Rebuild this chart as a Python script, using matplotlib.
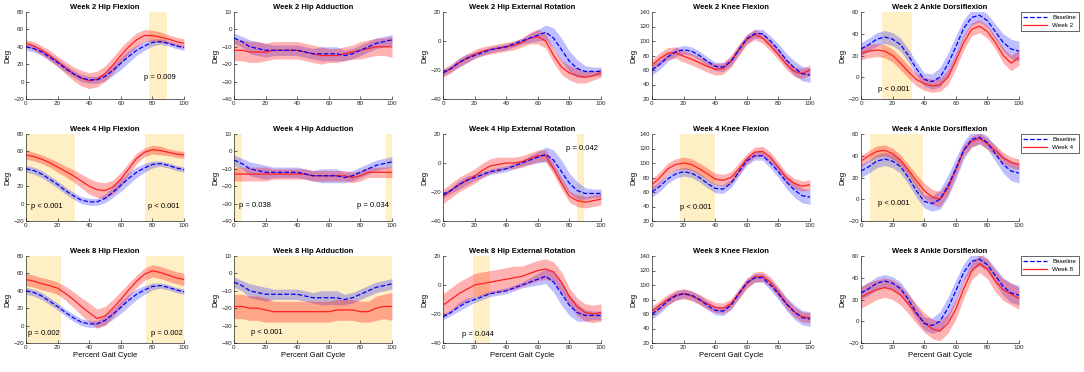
import numpy as np
import matplotlib.pyplot as plt

plt.rcParams['font.family'] = ['Liberation Sans', 'DejaVu Sans']

pct = np.arange(0, 101, 5)

# hip flexion (deg), sampled every 5 % of gait cycle
hf_base = [40, 38, 34, 28, 22, 15, 9, 4, 2, 2, 6, 13, 21, 29, 36, 41, 45, 46, 44, 41, 39]
hf_base_sd = [4, 4, 4, 4, 4, 4, 4, 4, 4, 4, 5, 6, 7, 7, 6, 5, 4, 3, 3, 3, 3]
hf_wk2 = [44, 41, 36, 30, 23, 16, 9, 4, 1, 3, 9, 19, 30, 40, 48, 53, 53, 51, 49, 46, 44]
hf_wk2_sd = [4, 5, 5, 6, 6, 7, 8, 9, 9, 9, 9, 9, 9, 8, 8, 7, 6, 6, 5, 5, 5]
hf_wk4 = [56, 54, 51, 47, 42, 37, 32, 26, 20, 16, 15, 19, 28, 40, 52, 59, 62, 61, 59, 57, 56]
hf_wk4_sd = [5, 5, 5, 5, 6, 6, 7, 8, 9, 9, 9, 8, 8, 7, 6, 5, 5, 5, 4, 4, 4]
hf_wk8 = [53, 51, 48, 46, 43, 37, 30, 22, 15, 8, 11, 20, 30, 41, 51, 59, 63, 61, 58, 55, 53]
hf_wk8_sd = [7, 7, 7, 7, 7, 8, 9, 10, 11, 11, 11, 10, 9, 8, 7, 7, 7, 7, 7, 7, 7]

# hip adduction
ha_base = [-5, -7, -10, -11, -12, -12, -12, -12, -12, -13, -14, -14, -14, -14, -15, -14, -12, -10, -8, -7, -6]
ha_base_sd = [3, 3, 4, 4, 4, 3, 3, 3, 3, 3, 3, 4, 4, 4, 3, 3, 3, 3, 3, 3, 3]
ha_wk2 = [-12, -12, -13, -13, -13, -12, -12, -12, -12, -13, -14, -15, -15, -15, -14, -13, -12, -11, -10, -10, -10]
ha_wk2_sd = [6, 6, 6, 6, 5, 5, 5, 5, 5, 5, 5, 5, 4, 4, 4, 4, 5, 5, 5, 5, 6]
ha_wk4 = [-13, -13, -13, -13, -13, -13, -13, -13, -13, -13, -14, -14, -14, -14, -14, -15, -14, -12, -12, -12, -12]
ha_wk4_sd = [4, 4, 4, 4, 4, 3, 3, 3, 3, 3, 3, 3, 3, 3, 3, 3, 3, 3, 3, 3, 3]
ha_wk8 = [-19, -19, -20, -20, -21, -22, -22, -22, -22, -22, -22, -22, -22, -21, -21, -21, -22, -22, -20, -19, -19]
ha_wk8_sd = [7, 7, 7, 7, 7, 6, 6, 6, 6, 6, 6, 6, 6, 6, 6, 6, 6, 6, 7, 7, 8]

# hip external rotation
her_base = [-22, -19, -15, -12, -10, -8, -6, -5, -4, -2, 0, 2, 4, 6, 2, -6, -14, -19, -21, -21, -21]
her_base_sd = [2, 2, 3, 3, 2, 2, 2, 2, 2, 2, 2, 3, 4, 5, 7, 8, 7, 6, 4, 3, 3]
her_wk2 = [-22, -19, -15, -12, -9, -7, -6, -5, -4, -3, -1, 2, 3, 0, -10, -18, -22, -24, -25, -24, -22]
her_wk2_sd = [3, 3, 3, 3, 3, 3, 3, 3, 3, 3, 3, 4, 5, 5, 5, 5, 5, 5, 4, 3, 3]
her_wk4 = [-23, -19, -15, -12, -9, -5, -2, -1, 0, 0, 1, 3, 5, 5, -4, -14, -23, -26, -27, -26, -25]
her_wk4_sd = [5, 5, 5, 5, 5, 5, 5, 5, 4, 4, 4, 4, 4, 4, 4, 4, 4, 4, 4, 4, 4]
her_wk8 = [-14, -10, -6, -3, 0, 1, 2, 3, 4, 5, 6, 8, 10, 11, 9, 2, -8, -15, -19, -20, -19]
her_wk8_sd = [8, 8, 8, 8, 8, 8, 8, 8, 8, 8, 7, 7, 7, 7, 7, 7, 6, 6, 6, 6, 6]

# knee flexion
kf_base = [60, 68, 78, 85, 88, 86, 80, 72, 65, 64, 72, 88, 103, 110, 110, 100, 88, 74, 63, 55, 53]
kf_base_sd = [7, 7, 6, 6, 6, 6, 6, 6, 6, 6, 6, 6, 6, 6, 6, 7, 8, 9, 10, 10, 10]
kf_wk2 = [67, 76, 83, 84, 79, 75, 70, 65, 61, 62, 72, 88, 102, 109, 104, 93, 81, 68, 58, 55, 60]
kf_wk2_sd = [8, 8, 8, 8, 8, 8, 8, 8, 8, 8, 8, 8, 7, 7, 7, 7, 7, 7, 7, 7, 7]
kf_wk4 = [70, 80, 92, 98, 100, 98, 92, 85, 78, 76, 80, 92, 106, 115, 116, 108, 94, 80, 72, 68, 70]
kf_wk4_sd = [8, 8, 8, 8, 8, 8, 8, 8, 8, 8, 8, 8, 7, 7, 7, 7, 7, 7, 7, 7, 7]
kf_wk8 = [64, 72, 80, 86, 88, 85, 80, 74, 69, 68, 74, 88, 102, 111, 112, 104, 90, 75, 63, 56, 55]
kf_wk8_sd = [7, 7, 7, 7, 7, 7, 7, 7, 7, 7, 7, 7, 7, 7, 7, 7, 7, 7, 7, 7, 7]

# ankle dorsiflexion
ad_base = [26, 30, 35, 37, 35, 30, 20, 8, -2, -4, 0, 12, 28, 45, 55, 57, 52, 42, 32, 26, 24]
ad_base_sd = [6, 6, 6, 6, 6, 6, 6, 6, 6, 7, 9, 10, 10, 8, 7, 6, 6, 7, 8, 9, 9]
ad_wk2 = [22, 24, 25, 24, 20, 13, 5, -2, -6, -8, -7, 0, 15, 32, 44, 47, 42, 32, 20, 13, 18]
ad_wk2_sd = [6, 6, 6, 6, 6, 6, 6, 6, 6, 6, 6, 7, 7, 7, 6, 6, 6, 6, 7, 7, 7]
ad_wk4 = [35, 40, 44, 45, 42, 36, 27, 17, 8, 2, 0, 10, 27, 45, 53, 56, 51, 45, 38, 34, 32]
ad_wk4_sd = [5, 5, 5, 5, 5, 5, 5, 6, 7, 7, 7, 6, 5, 5, 5, 5, 5, 5, 5, 5, 5]
ad_wk8 = [22, 26, 29, 31, 29, 24, 16, 7, -1, -7, -9, -2, 11, 30, 46, 53, 48, 37, 29, 25, 21]
ad_wk8_sd = [10, 10, 9, 9, 9, 9, 9, 9, 9, 9, 9, 9, 9, 9, 8, 8, 9, 10, 10, 10, 10]

weeks = ['Week 2', 'Week 4', 'Week 8']
joints = ['Hip Flexion', 'Hip Adduction', 'Hip External Rotation', 'Knee Flexion', 'Ankle Dorsiflexion']
ylims = [(-20, 80), (-40, 10), (-40, 20), (20, 140), (-20, 60)]
ysteps = [20, 10, 20, 20, 20]

base = [(hf_base, hf_base_sd), (ha_base, ha_base_sd), (her_base, her_base_sd),
        (kf_base, kf_base_sd), (ad_base, ad_base_sd)]
post = [
    [(hf_wk2, hf_wk2_sd), (ha_wk2, ha_wk2_sd), (her_wk2, her_wk2_sd), (kf_wk2, kf_wk2_sd), (ad_wk2, ad_wk2_sd)],
    [(hf_wk4, hf_wk4_sd), (ha_wk4, ha_wk4_sd), (her_wk4, her_wk4_sd), (kf_wk4, kf_wk4_sd), (ad_wk4, ad_wk4_sd)],
    [(hf_wk8, hf_wk8_sd), (ha_wk8, ha_wk8_sd), (her_wk8, her_wk8_sd), (kf_wk8, kf_wk8_sd), (ad_wk8, ad_wk8_sd)],
]

# significant regions (start, end in % gait cycle)
sig_spans = {
    (0, 0): [(78, 89)], (0, 4): [(13, 32)],
    (1, 0): [(0, 31), (75, 100)], (1, 1): [(0, 5), (96, 100)], (1, 2): [(85, 89)],
    (1, 3): [(18, 40)], (1, 4): [(6, 39)],
    (2, 0): [(0, 22), (76, 100)], (2, 1): [(0, 100)], (2, 2): [(19, 30)],
}
# p-value labels (x, y, text)
p_labels = {
    (0, 0): [(85, 5, 'p = 0.009')], (0, 4): [(21, -11, 'p < 0.001')],
    (1, 0): [(13, -3, 'p < 0.001'), (87, -3, 'p < 0.001')],
    (1, 1): [(13, -31, 'p = 0.038'), (88, -31, 'p = 0.034')],
    (1, 2): [(88, 10, 'p = 0.042')], (1, 3): [(28, 38, 'p < 0.001')],
    (1, 4): [(21, -4, 'p < 0.001')],
    (2, 0): [(11, -9, 'p = 0.002'), (89, -9, 'p = 0.002')],
    (2, 1): [(21, -34, 'p < 0.001')], (2, 2): [(22, -34, 'p = 0.044')],
}

W, H = 1084, 372
fig = plt.figure(figsize=(W / 100, H / 100), dpi=100)
lefts = [26, 234, 443, 652, 861]
tops = [12, 134, 256]
aw, ah = 158, 87

blue = '#0000FF'
red = '#FF2020'
span_col = '#FFEFC4'

for r in range(3):
    for c in range(5):
        ax = fig.add_axes([lefts[c] / W, 1 - (tops[r] + ah) / H, aw / W, ah / H])
        for s0, s1 in sig_spans.get((r, c), []):
            ax.axvspan(s0, s1, color=span_col, lw=0, zorder=0)
        bm, bs = np.array(base[c][0]), np.array(base[c][1])
        wm, ws = np.array(post[r][c][0]), np.array(post[r][c][1])
        ax.fill_between(pct, bm - bs, bm + bs, color=blue, alpha=0.25, lw=0, zorder=1)
        ax.fill_between(pct, wm - ws, wm + ws, color='#FF0000', alpha=0.3, lw=0, zorder=2)
        lb, = ax.plot(pct, bm, '--', color=blue, lw=0.9, zorder=4, label='Baseline')
        lw_, = ax.plot(pct, wm, '-', color=red, lw=0.9, zorder=3, label=weeks[r])
        for px, py, txt in p_labels.get((r, c), []):
            ax.text(px, py, txt, ha='center', va='center', fontsize=5.5, zorder=5)

        ax.set_xlim(0, 100)
        ax.set_ylim(*ylims[c])
        ax.set_xticks(range(0, 101, 20))
        ax.set_yticks(np.arange(ylims[c][0], ylims[c][1] + 1, ysteps[c]))
        ax.set_title(f'{weeks[r]} {joints[c]}', fontsize=5.5, fontweight='bold', pad=2.5)
        ax.set_ylabel('Deg', fontsize=5.5, labelpad=1.5)
        if r == 2:
            ax.set_xlabel('Percent Gait Cycle', fontsize=5.5, labelpad=1.5)
        for sp in ['top', 'right']:
            ax.spines[sp].set_visible(False)
        for sp in ['left', 'bottom']:
            ax.spines[sp].set_linewidth(0.5)
            ax.spines[sp].set_color('#262626')
        ax.tick_params(direction='in', length=2, width=0.5, labelsize=4.5, pad=1.5, colors='#262626')
        if c == 4:
            leg = ax.legend(handles=[lb, lw_], loc='upper left', bbox_to_anchor=(1.01, 1.0),
                            fontsize=4.5, frameon=True, fancybox=False, framealpha=1,
                            handlelength=3.8, borderpad=0.45, labelspacing=0.35, handletextpad=0.8,
                            borderaxespad=0)
            leg.get_frame().set_linewidth(0.5)
            leg.get_frame().set_edgecolor('#262626')

fig.savefig('out.png', dpi=100)
